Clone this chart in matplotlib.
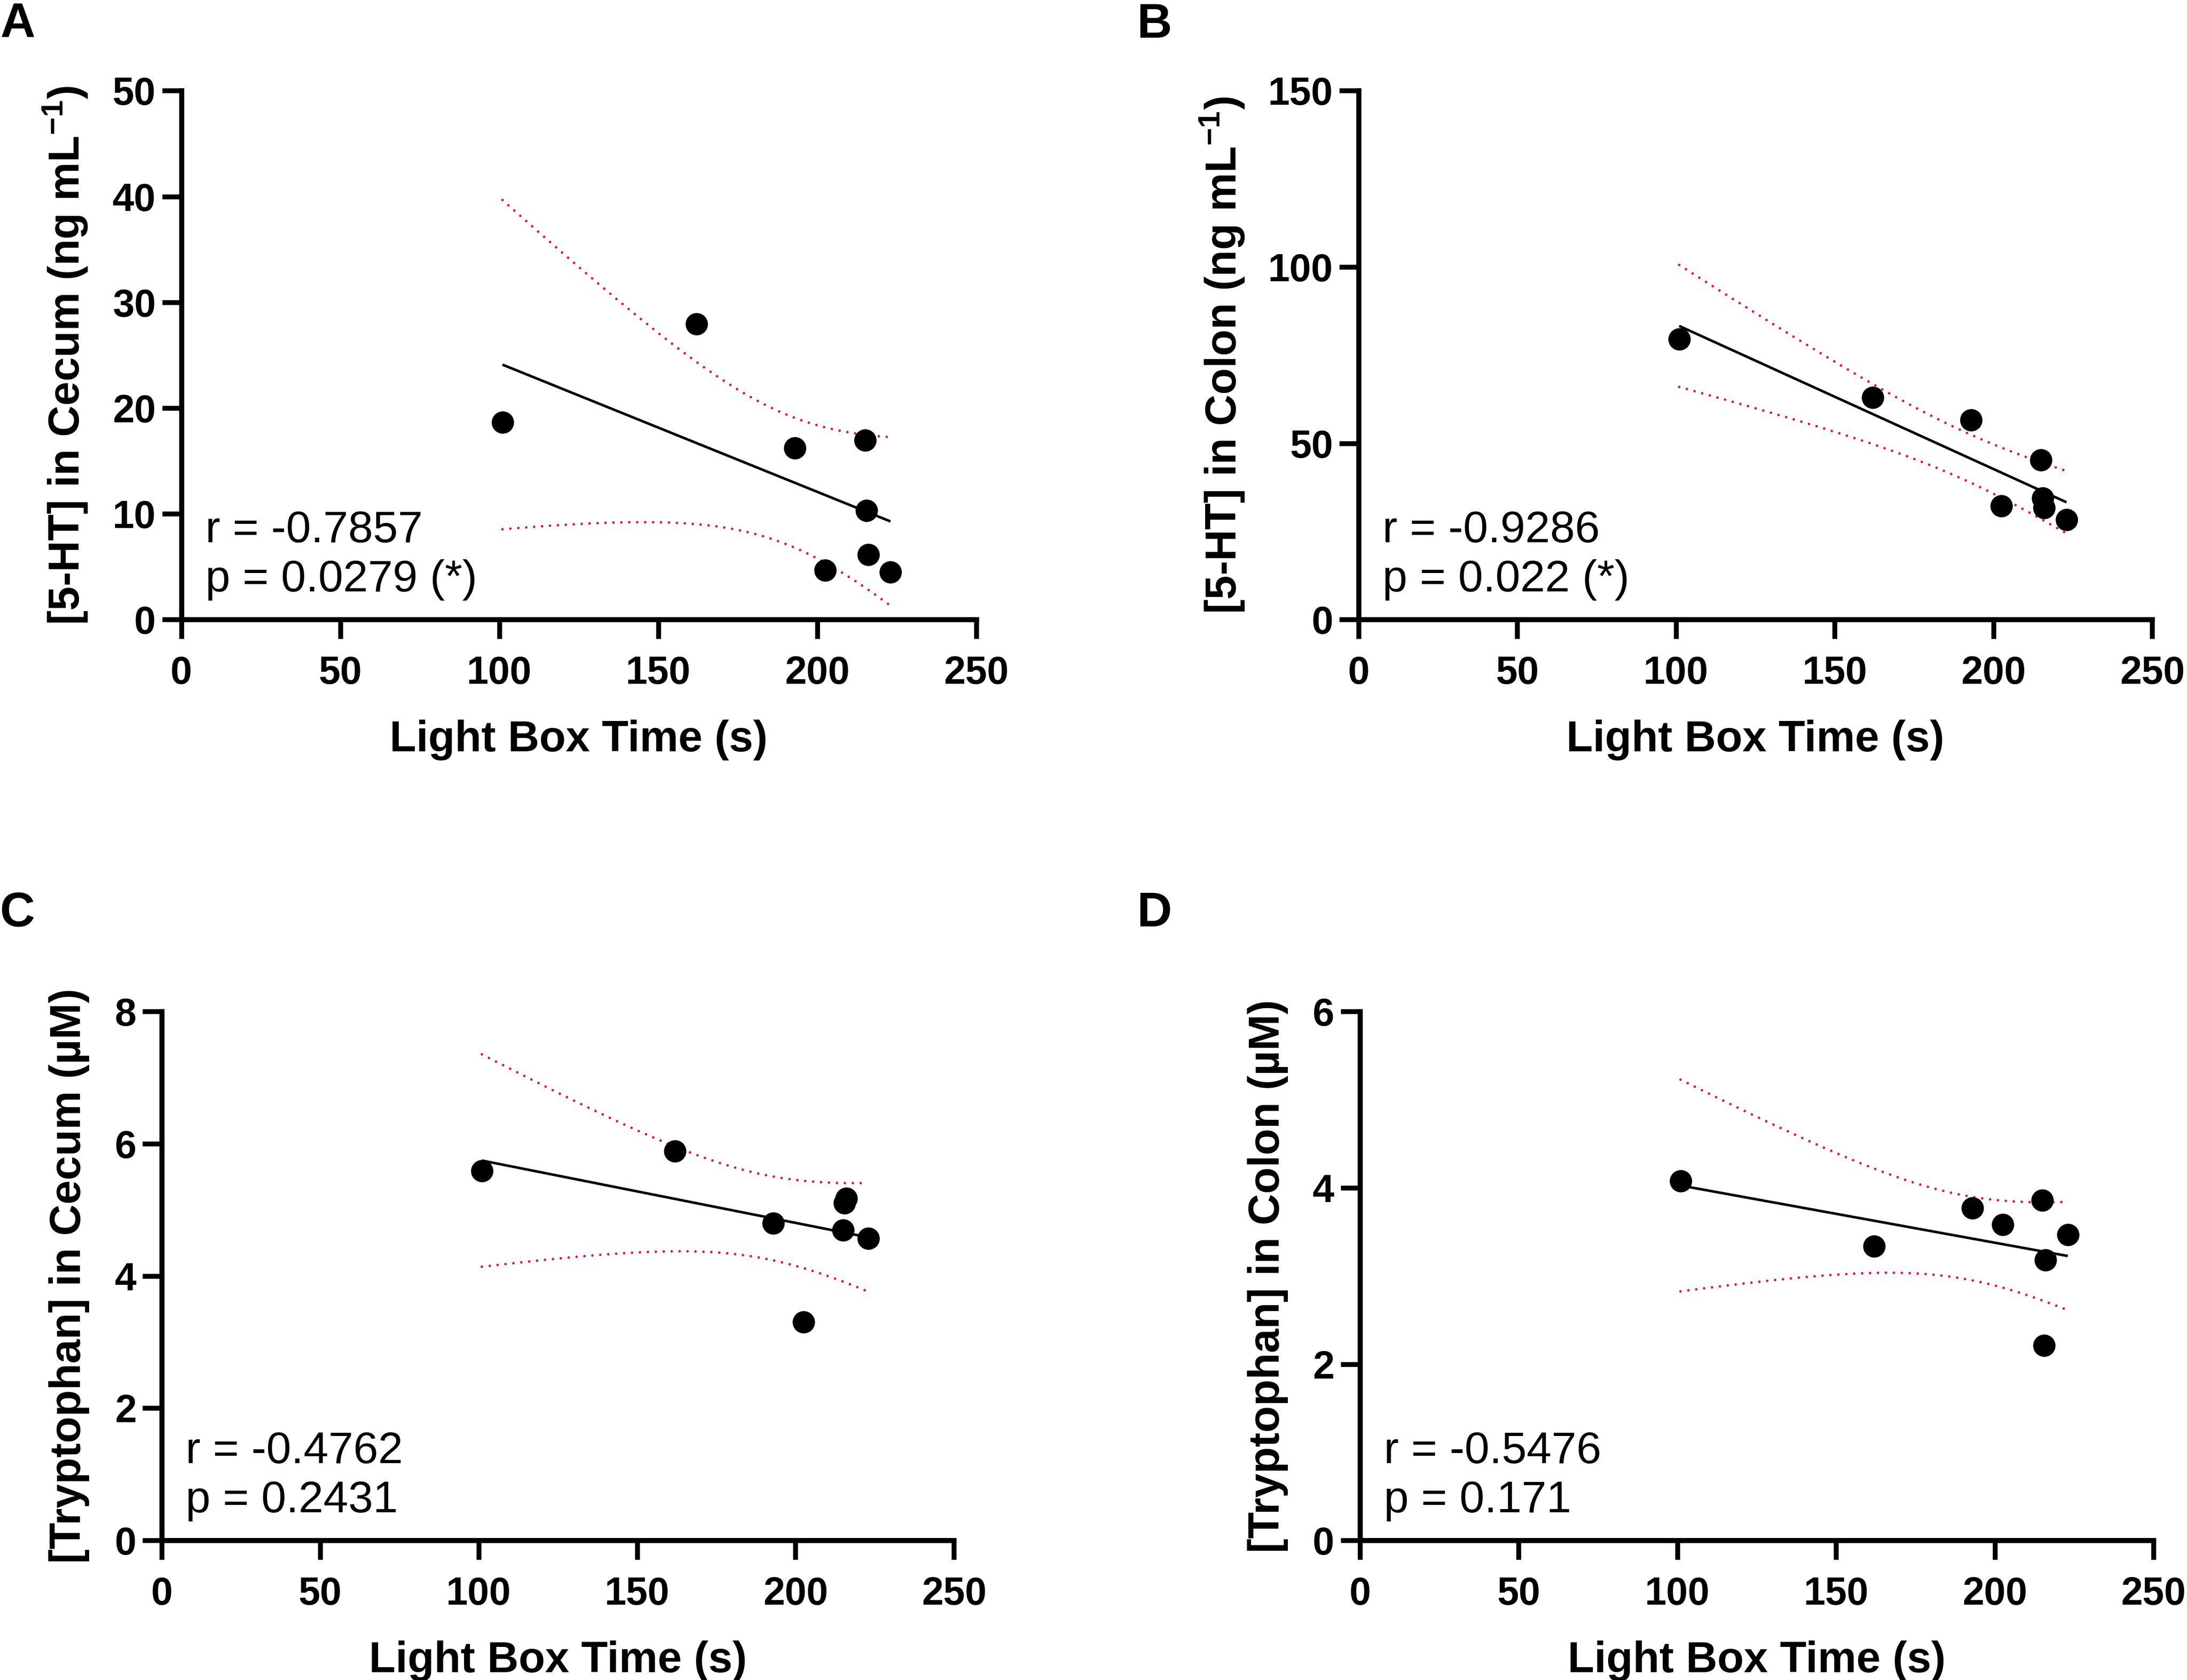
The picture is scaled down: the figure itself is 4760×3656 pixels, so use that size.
import numpy as np
import matplotlib
matplotlib.use("Agg")
import matplotlib.pyplot as plt

plt.rcParams['font.family'] = ['Liberation Sans', 'DejaVu Sans']
plt.rcParams['mathtext.default'] = 'regular'

# light box time (s) of the 8 mice, shared by all panels
light_box_time = [101, 162, 193, 202.5, 215, 215.5, 216, 223]

ht_cecum = [18.65, 27.93, 16.23, 4.65, 16.94, 10.33, 6.13, 4.49]
ht_colon = [79.6, 63.0, 56.6, 32.2, 45.3, 34.4, 31.7, 28.3]
trp_cecum = [5.59, 5.89, 4.80, 3.30, 4.69, 5.10, 5.17, 4.57]
trp_colon = [4.08, 3.34, 3.77, 3.58, 3.86, 2.21, 3.18, 3.47]

panel_letters = ['A', 'B', 'C', 'D']
y_labels = ['[5-HT] in Cecum (ng mL$^{\\mathregular{-1}}$)',
            '[5-HT] in Colon (ng mL$^{\\mathregular{-1}}$)',
            '[Tryptophan] in Cecum (\u00b5M)',
            '[Tryptophan] in Colon (\u00b5M)']
y_max = [50, 150, 8, 6]
y_step = [10, 50, 2, 2]
r_text = ['r = -0.7857', 'r = -0.9286', 'r = -0.4762', 'r = -0.5476']
p_text = ['p = 0.0279 (*)', 'p = 0.022 (*)', 'p = 0.2431', 'p = 0.171']
x_ticks = [0, 50, 100, 150, 200, 250]
x_label = 'Light Box Time (s)'

T_CRIT = 2.4469  # t(0.975, df = 6)
CI_COLOR = '#E8104F'

fig = plt.figure(figsize=(23.8, 18.28), dpi=200)

# axes rects in figure fraction (left, bottom, width, height)
rects = [(0.0829, 0.6312, 0.3635, 0.3148),
         (0.6212, 0.6312, 0.3629, 0.3148),
         (0.0740, 0.0831, 0.3622, 0.3148),
         (0.6218, 0.0831, 0.3629, 0.3148)]
ylabel_x = [-0.146, -0.172, -0.117, -0.116]
letter_pos = [(0.0, 0.9777), (0.520, 0.9777), (0.0, 0.4485), (0.520, 0.4485)]

series = [ht_cecum, ht_colon, trp_cecum, trp_colon]

for i, yvals in enumerate(series):
    ax = fig.add_axes(rects[i])
    x = np.array(light_box_time, dtype=float)
    y = np.array(yvals, dtype=float)
    n = len(x)

    # linear fit with 95% confidence band
    slope, icpt = np.polyfit(x, y, 1)
    xs = np.linspace(x.min(), x.max(), 200)
    fit = icpt + slope * xs
    resid = y - (icpt + slope * x)
    s = np.sqrt(np.sum(resid ** 2) / (n - 2))
    sxx = np.sum((x - x.mean()) ** 2)
    half = T_CRIT * s * np.sqrt(1.0 / n + (xs - x.mean()) ** 2 / sxx)

    dot = dict(color=CI_COLOR, lw=2.0, linestyle=(0, (0.01, 3.1)),
               dash_capstyle='round', zorder=2)
    ax.plot(xs, fit + half, **dot)
    ax.plot(xs, fit - half, **dot)
    ax.plot(xs, fit, color='black', lw=2.0, solid_capstyle='butt', zorder=3)
    ax.plot(x, y, 'o', color='black', ms=17.5, mec='none', zorder=4,
            clip_on=False)

    ax.set_xlim(0, 250)
    ax.set_ylim(0, y_max[i])
    ax.set_xticks(x_ticks)
    ax.set_yticks(np.arange(0, y_max[i] + y_step[i] / 2, y_step[i]))
    for sp in ['top', 'right']:
        ax.spines[sp].set_visible(False)
    for sp in ['left', 'bottom']:
        ax.spines[sp].set_linewidth(4.0)
        ax.spines[sp].set_capstyle('projecting')
    ax.tick_params(axis='both', direction='out', length=15, width=3.8,
                   labelsize=30.5)
    ax.tick_params(axis='x', pad=13)
    ax.tick_params(axis='y', pad=5)
    for lab in ax.get_xticklabels() + ax.get_yticklabels():
        lab.set_fontweight('bold')

    ax.set_xlabel(x_label, fontsize=34, fontweight='bold', va='baseline')
    ax.xaxis.set_label_coords(0.5, -0.249)
    ax.set_ylabel(y_labels[i], fontsize=34, fontweight='bold', va='center')
    ax.yaxis.set_label_coords(ylabel_x[i], 0.5)

    ax.text(0.03, 0.146, r_text[i], transform=ax.transAxes, fontsize=35,
            va='baseline', ha='left')
    ax.text(0.03, 0.053, p_text[i], transform=ax.transAxes, fontsize=35,
            va='baseline', ha='left')

    fig.text(letter_pos[i][0], letter_pos[i][1], panel_letters[i],
             fontsize=38, fontweight='bold', va='baseline', ha='left')

fig.savefig('out.png', dpi=200, facecolor='white')
